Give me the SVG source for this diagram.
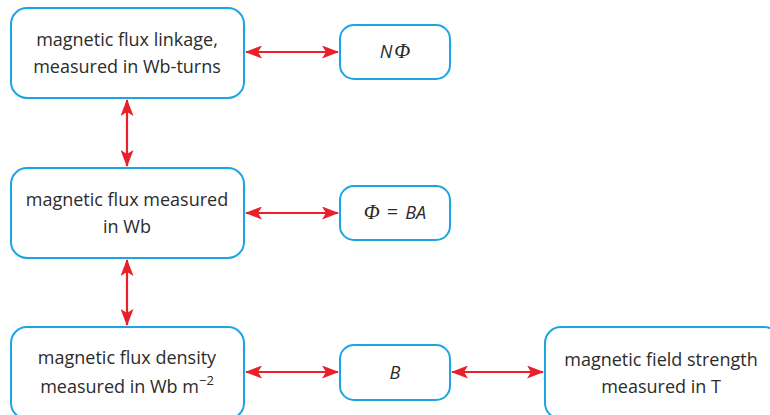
<svg xmlns="http://www.w3.org/2000/svg" width="770" height="415" viewBox="0 0 770 415">
<defs>
<style>
.box{fill:#fff;stroke:#1ba6e3;stroke-width:2}
.t{font-family:"Open Sans","Noto Sans",sans-serif;font-size:18px;fill:#2b2b2b;text-anchor:middle}
.m{font-family:"Open Sans","Noto Sans",sans-serif;font-size:18px;fill:#2b2b2b;font-style:italic;text-anchor:middle}
.phi{font-family:"Liberation Serif","DejaVu Serif",serif;font-style:italic;font-size:21px}
.c{stroke:#e8202a;stroke-width:2.2;fill:none;marker-start:url(#ah);marker-end:url(#ah)}
</style>
<marker id="ah" viewBox="0 0 17 13" refX="16" refY="6.5" markerWidth="17" markerHeight="13" markerUnits="userSpaceOnUse" orient="auto-start-reverse">
<path d="M0,0 L17,6.5 L0,13 L4,6.5 Z" fill="#e8202a"/>
</marker>
</defs>
<g id="connectors">
<line class="c" x1="246" y1="52" x2="338" y2="52"/>
<line class="c" x1="127" y1="100" x2="127" y2="166"/>
<line class="c" x1="246" y1="213" x2="338" y2="213"/>
<line class="c" x1="127" y1="260" x2="127" y2="325"/>
<line class="c" x1="246" y1="372" x2="338" y2="372"/>
<line class="c" x1="452" y1="372" x2="543" y2="372"/>
</g>
<g id="n1">
<rect class="box" x="11" y="8" width="233" height="90" rx="16"/>
<text class="t" x="127" y="46">magnetic flux linkage,</text>
<text class="t" x="127" y="73">measured in Wb-turns</text>
</g>
<g id="n2">
<rect class="box" x="340" y="25" width="110" height="54" rx="14"/>
<text class="m" x="395" y="58">N<tspan class="phi" dx="2">Φ</tspan></text>
</g>
<g id="n3">
<rect class="box" x="11" y="168" width="233" height="90" rx="16"/>
<text class="t" x="127" y="206">magnetic flux measured</text>
<text class="t" x="127" y="233">in Wb</text>
</g>
<g id="n4">
<rect class="box" x="340" y="186" width="110" height="54" rx="14"/>
<text class="m" x="395" y="219"><tspan class="phi">Φ</tspan><tspan font-style="normal" font-size="20" dx="7">=</tspan><tspan dx="7">BA</tspan></text>
</g>
<g id="n5">
<rect class="box" x="11" y="327" width="233" height="92" rx="16"/>
<text class="t" x="127" y="364">magnetic flux density</text>
<text class="t" x="127" y="393">measured in Wb m<tspan font-size="13" dy="-8">−2</tspan></text>
</g>
<g id="n6">
<rect class="box" x="340" y="345" width="110" height="55" rx="14"/>
<text class="m" x="395" y="379">B</text>
</g>
<g id="n7">
<rect class="box" x="545" y="327" width="235" height="92" rx="16"/>
<text class="t" x="661" y="366">magnetic field strength</text>
<text class="t" x="661" y="393">measured in T</text>
</g>
</svg>
